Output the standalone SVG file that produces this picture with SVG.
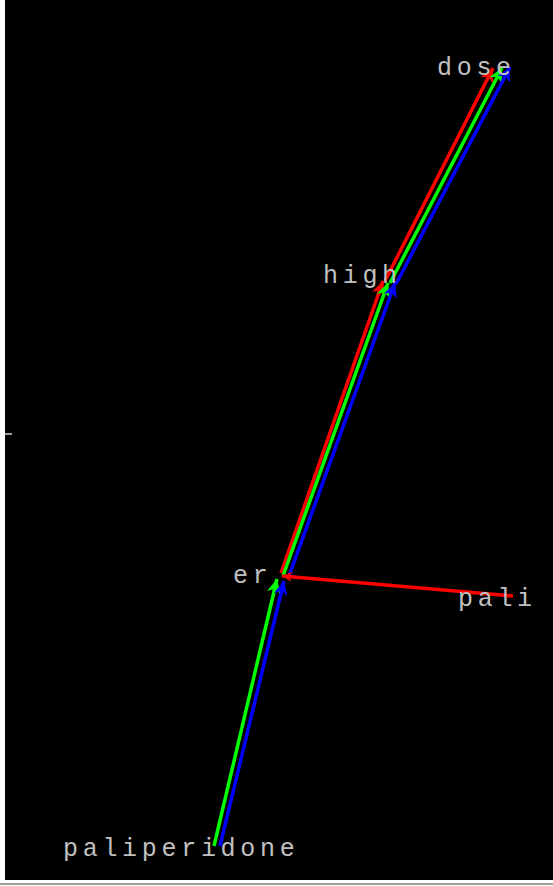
<svg xmlns="http://www.w3.org/2000/svg" width="553" height="886" viewBox="0 0 553 886">
<style>
.lbl{font-family:"Liberation Mono","DejaVu Sans Mono",monospace;font-size:25px;letter-spacing:4.7px;fill:#c0c0c0}
.r{stroke:#ff0000;stroke-width:3.5;fill:none}
.g{stroke:#00ff00;stroke-width:3.5;fill:none}
.b{stroke:#0000ff;stroke-width:3.5;fill:none}
</style>
<defs>
<marker id="ar" markerUnits="userSpaceOnUse" markerWidth="16" markerHeight="14" refX="14" refY="7" orient="auto"><path d="M0,0 L14,7 L0,14 L4,7 Z" fill="#ff0000"/></marker>
<marker id="ag" markerUnits="userSpaceOnUse" markerWidth="16" markerHeight="14" refX="14" refY="7" orient="auto"><path d="M0,0 L14,7 L0,14 L4,7 Z" fill="#00ff00"/></marker>
<marker id="ab" markerUnits="userSpaceOnUse" markerWidth="16" markerHeight="14" refX="14" refY="7" orient="auto"><path d="M0,0 L14,7 L0,14 L4,7 Z" fill="#0000ff"/></marker>
<marker id="ars" markerUnits="userSpaceOnUse" markerWidth="12" markerHeight="10" refX="10" refY="5" orient="auto"><path d="M0,0 L10,5 L0,10 L3,5 Z" fill="#ff0000"/></marker>
</defs>
<rect x="0" y="0" width="553" height="886" fill="#ffffff"/>
<rect x="5" y="0" width="548" height="880" fill="#000000"/>
<rect x="0" y="883" width="553" height="2" fill="#a0a0a0"/>
<rect x="5" y="433" width="7" height="2" fill="#a0a0a0"/>
<g id="connectors">
<line class="g" x1="214" y1="846" x2="277" y2="579" marker-end="url(#ag)"/>
<line class="b" x1="220" y1="846" x2="284" y2="581" marker-end="url(#ab)"/>
<line class="r" x1="281" y1="573" x2="383" y2="281" marker-end="url(#ar)"/>
<line class="g" x1="283" y1="576" x2="388" y2="283" marker-end="url(#ag)"/>
<line class="b" x1="288" y1="579" x2="395" y2="283" marker-end="url(#ab)"/>
<line class="r" x1="385" y1="281" x2="493" y2="68" marker-end="url(#ar)"/>
<line class="g" x1="390" y1="283" x2="502" y2="68" marker-end="url(#ag)"/>
<line class="b" x1="396" y1="284" x2="510" y2="67" marker-end="url(#ab)"/>
<line class="r" x1="513" y1="596" x2="282" y2="576" marker-end="url(#ars)"/>
</g>
<g id="node-dose"><text class="lbl" x="437" y="75">dose</text></g>
<g id="node-high"><text class="lbl" x="323" y="283">high</text></g>
<g id="node-er"><text class="lbl" x="233" y="583">er</text></g>
<g id="node-pali"><text class="lbl" x="458" y="606">pali</text></g>
<g id="node-paliperidone"><text class="lbl" x="63" y="856">paliperidone</text></g>
</svg>
